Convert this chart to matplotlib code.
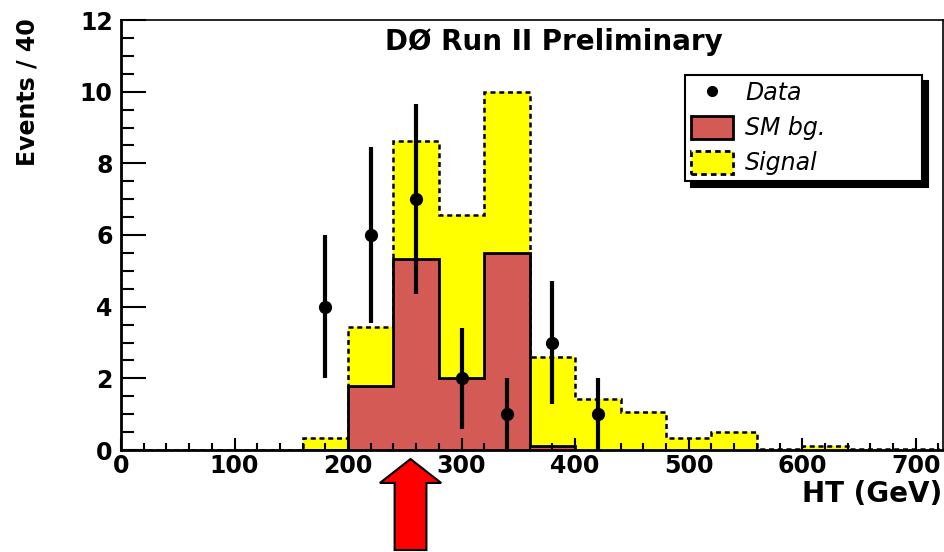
import matplotlib.pyplot as plt
from matplotlib.patches import Patch, FancyArrow
from matplotlib.lines import Line2D
from matplotlib.ticker import MultipleLocator
from matplotlib.transforms import blended_transform_factory

# HT histogram, 40 GeV bins
edges = list(range(0, 760, 40))
signal_total = [0, 0, 0, 0, 0.34, 3.42, 8.62, 6.56, 10.0, 2.6,
                1.41, 1.05, 0.34, 0.49, 0.02, 0.1, 0.04, 0.02]
sm_bg = [0, 0, 0, 0, 0, 1.78, 5.33, 2.0, 5.49, 0.1,
         0, 0, 0, 0, 0, 0, 0, 0]

data_x = [180, 220, 260, 300, 340, 380, 420]
data_y = [4, 6, 7, 2, 1, 3, 1]
data_err = [2.0, 2.45, 2.65, 1.41, 1.0, 1.73, 1.0]

cut_ht = 255

red = '#d45a55'
plt.rcParams['font.family'] = 'DejaVu Sans'

fig = plt.figure(figsize=(9.45, 5.52), dpi=100)
ax = fig.add_axes([121 / 945, 102 / 552, 822 / 945, 430 / 552])

ax.stairs(signal_total, edges, fill=True, color='yellow', baseline=0)
ax.stairs(signal_total, edges, fill=False, color='black', baseline=0,
          linestyle=(0, (2, 1.5)), linewidth=1.8)
ax.stairs(sm_bg[4:10], edges[4:11], fill=True, facecolor=red, baseline=0)
ax.stairs(sm_bg[4:10], edges[4:11], fill=False, color='black', baseline=0,
          linewidth=2)

ax.errorbar(data_x, data_y, yerr=data_err, fmt='o', color='black',
            markersize=8.5, elinewidth=3, capsize=0)

ax.set_xlim(0, 724)
ax.set_ylim(0, 12)
ax.xaxis.set_major_locator(MultipleLocator(100))
ax.xaxis.set_minor_locator(MultipleLocator(20))
ax.yaxis.set_major_locator(MultipleLocator(2))
ax.yaxis.set_minor_locator(MultipleLocator(0.5))
ax.tick_params(axis='x', which='major', direction='in', length=9, width=1.5,
               pad=3, labelsize=17)
ax.tick_params(axis='x', which='minor', direction='in', length=5, width=1.5)
ax.tick_params(axis='y', which='major', direction='in', length=18, width=1.5,
               pad=6, labelsize=17)
ax.tick_params(axis='y', which='minor', direction='in', length=9, width=1.5)
for lab in ax.get_xticklabels() + ax.get_yticklabels():
    lab.set_fontweight('bold')

for side in ['left', 'bottom']:
    ax.spines[side].set_linewidth(2)
for side in ['top', 'right']:
    ax.spines[side].set_linewidth(1.2)

ax.text(0.527, 0.93, 'DØ Run II Preliminary', transform=ax.transAxes,
        ha='center', va='baseline', fontsize=20, fontweight='bold')
fig.text(942 / 945, 1 - 502 / 552, 'HT (GeV)', ha='right', va='baseline',
         fontsize=20, fontweight='bold')
fig.text(28 / 945, 1 - 92 / 552, 'Events / 40', rotation=90, ha='center',
         va='center', fontsize=17, fontweight='bold')

handles = [
    Line2D([], [], marker='o', color='black', linestyle='none', markersize=7),
    Patch(facecolor=red, edgecolor='black', linewidth=2),
    Patch(facecolor='yellow', edgecolor='black', linewidth=2,
          linestyle=(0, (2, 1.5))),
]
leg = ax.legend(handles, ['Data', 'SM bg.', 'Signal'],
                loc='upper left',
                bbox_to_anchor=(685 / 945, 1 - 75 / 552 - 0.01, 237 / 945, 0.01),
                bbox_transform=fig.transFigure, mode='expand',
                fancybox=False, edgecolor='black', framealpha=1,
                shadow={'ox': 4.5, 'oy': -4.5, 'color': 'black', 'alpha': 1},
                prop={'style': 'italic', 'size': 17},
                handlelength=1.8, handleheight=1.1, labelspacing=0.45,
                borderpad=0.25, handletextpad=0.5, borderaxespad=0)
leg.get_frame().set_linewidth(1.5)

# cut position arrow under the axis
trans = blended_transform_factory(ax.transData, ax.transAxes)
arrow = FancyArrow(cut_ht, -0.2326, 0, 0.2116, width=28, head_width=54,
                   head_length=0.0557, length_includes_head=True,
                   facecolor='red', edgecolor='black', linewidth=1.5,
                   transform=trans, clip_on=False)
ax.add_patch(arrow)

fig.savefig('out.png', dpi=100)
